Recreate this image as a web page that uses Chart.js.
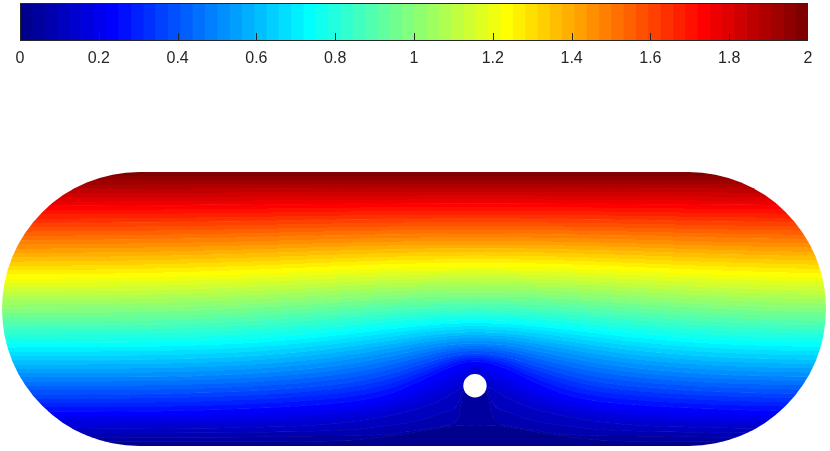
<!DOCTYPE html>
<html>
<head>
<meta charset="utf-8">
<script src="https://cdn.jsdelivr.net/npm/chart.js@4/dist/chart.umd.min.js"></script>
<style>
  html, body { margin: 0; padding: 0; background: #ffffff; }
  #wrap { position: relative; width: 830px; height: 451px; overflow: hidden; }
  #field, #cbar { position: absolute; left: 0; top: 0; }
</style>
</head>
<body>
<div id="wrap">
  <canvas id="field" width="830" height="451"></canvas>
  <canvas id="cbar" width="830" height="80"></canvas>
</div>
<script>
// ---------------- data ----------------
// colour bar
const colorbarRange = [0, 2];
const colorbarTicks = [0, 0.2, 0.4, 0.6, 0.8, 1, 1.2, 1.4, 1.6, 1.8, 2];
const colorLevelCount = 64;

// domain: channel with rounded ends, walls at y = 0 (value 0) and y = 2 (value 2)
const wallX = [0, 6];
const wallY = [0, 2];
const wallValue = [0, 2];

// obstacle (hole)
const holeX = [3.444];
const holeY = [0.44];
const holeR = [0.085];

// sample positions along the channel where contour heights were read
const xSamples = [0, 0.6, 1.2, 1.8, 2.3, 2.6, 2.85, 3.05, 3.2, 3.32, 3.36, 3.45, 3.53, 3.58, 3.71, 3.85, 4.06, 4.3, 4.6, 5.1, 5.7, 6];

// contour levels and their heights at xSamples
const contourLevels = [0.03125, 0.0625, 0.09375, 0.125, 0.25, 0.375, 0.5, 0.625, 0.75, 0.875, 1.0, 1.125, 1.25, 1.375, 1.5, 1.625, 1.75, 1.875];

const c_0_03125 = [0.031,0.031,0.031,0.031,0.035,0.048,0.076,0.110,0.134,0.147,0.149,0.153,0.149,0.147,0.134,0.110,0.076,0.048,0.035,0.031,0.031,0.031];
const c_0_0625  = [0.0625,0.0625,0.064,0.066,0.073,0.075,0.090,0.118,0.145,0.200,0.394,0.46,0.394,0.200,0.145,0.118,0.090,0.075,0.073,0.066,0.064,0.063];
const c_0_09375 = [0.094,0.094,0.095,0.099,0.109,0.124,0.153,0.190,0.241,0.307,0.423,0.50,0.423,0.307,0.241,0.190,0.153,0.124,0.109,0.099,0.095,0.094];
const c_0_125   = [0.125,0.125,0.128,0.135,0.153,0.182,0.226,0.277,0.336,0.409,0.438,0.535,0.438,0.409,0.336,0.277,0.226,0.182,0.153,0.135,0.128,0.126];
const c_0_25    = [0.25,0.251,0.256,0.273,0.301,0.332,0.391,0.478,0.548,0.596,0.606,0.615,0.606,0.596,0.548,0.478,0.391,0.332,0.301,0.273,0.256,0.252];
const c_0_375   = [0.375,0.376,0.382,0.401,0.436,0.475,0.533,0.595,0.638,0.664,0.669,0.674,0.669,0.664,0.638,0.595,0.533,0.475,0.436,0.401,0.382,0.378];
const c_0_5     = [0.5,0.501,0.507,0.528,0.569,0.612,0.659,0.701,0.728,0.742,0.745,0.748,0.745,0.742,0.728,0.701,0.659,0.612,0.569,0.528,0.507,0.503];
const c_0_625   = [0.625,0.626,0.633,0.655,0.698,0.737,0.773,0.802,0.818,0.826,0.828,0.829,0.828,0.826,0.818,0.802,0.773,0.737,0.698,0.655,0.633,0.629];
const c_0_75    = [0.75,0.752,0.759,0.783,0.823,0.854,0.881,0.900,0.911,0.916,0.917,0.918,0.917,0.916,0.911,0.900,0.881,0.854,0.823,0.783,0.759,0.754];
const c_0_875   = [0.875,0.878,0.887,0.912,0.949,0.973,0.991,1.003,1.009,1.013,1.013,1.014,1.013,1.013,1.009,1.003,0.991,0.973,0.949,0.912,0.887,0.881];
const c_1_0     = [1.001,1.004,1.013,1.036,1.066,1.085,1.100,1.109,1.114,1.116,1.116,1.117,1.116,1.116,1.114,1.109,1.100,1.085,1.066,1.036,1.013,1.007];
const c_1_125   = [1.126,1.129,1.140,1.161,1.186,1.202,1.214,1.221,1.225,1.226,1.227,1.227,1.227,1.226,1.225,1.221,1.214,1.202,1.186,1.161,1.140,1.134];
const c_1_25    = [1.252,1.256,1.267,1.286,1.307,1.319,1.328,1.333,1.335,1.337,1.337,1.338,1.337,1.337,1.335,1.333,1.328,1.319,1.307,1.286,1.267,1.260];
const c_1_375   = [1.377,1.381,1.390,1.406,1.422,1.431,1.437,1.441,1.443,1.444,1.444,1.444,1.444,1.444,1.443,1.441,1.437,1.431,1.422,1.406,1.390,1.385];
const c_1_5     = [1.502,1.506,1.513,1.524,1.536,1.542,1.546,1.549,1.550,1.551,1.551,1.551,1.551,1.551,1.550,1.549,1.546,1.542,1.536,1.524,1.513,1.509];
const c_1_625   = [1.627,1.630,1.635,1.643,1.651,1.656,1.659,1.660,1.661,1.661,1.661,1.661,1.661,1.661,1.661,1.660,1.659,1.656,1.651,1.643,1.635,1.632];
const c_1_75    = [1.751,1.753,1.757,1.762,1.766,1.769,1.770,1.771,1.772,1.772,1.772,1.772,1.772,1.772,1.772,1.771,1.770,1.769,1.766,1.762,1.757,1.755];
const c_1_875   = [1.876,1.877,1.879,1.881,1.883,1.884,1.885,1.886,1.886,1.886,1.886,1.886,1.886,1.886,1.886,1.886,1.885,1.884,1.883,1.881,1.879,1.878];

const contourY = [c_0_03125, c_0_0625, c_0_09375, c_0_125, c_0_25, c_0_375, c_0_5, c_0_625, c_0_75,
                  c_0_875, c_1_0, c_1_125, c_1_25, c_1_375, c_1_5, c_1_625, c_1_75, c_1_875];

// ---------------- style helpers ----------------
const FONT = "'Liberation Sans', Arial, Helvetica, sans-serif";
const INK = '#262626';

// MATLAB jet(64) colormap
function jet(i, n) {
  const q = n / 4;
  const I = i + 1;
  let r, g, b;
  r = I <= 1.5 * q ? 0 : I <= 2.5 * q ? (I - 1.5 * q) / q : I <= 3.5 * q - 1 ? 1 : (4.5 * q - I) / q;
  g = I <= 0.5 * q ? 0 : I <= 1.5 * q ? (I - 0.5 * q) / q : I <= 2.5 * q ? 1 : I <= 3.5 * q ? (3.5 * q - I) / q : 0;
  b = I <= 0.5 * q ? (I + 0.5 * q) / q : I <= 1.5 * q ? 1 : I <= 2.5 * q ? (2.5 * q - I) / q : 0;
  return [r, g, b].map(c => Math.round(Math.max(0, Math.min(1, c)) * 255));
}
const palette = [];
for (let i = 0; i < colorLevelCount; i++) palette.push(jet(i, colorLevelCount));
const paletteCss = palette.map(c => `rgb(${c[0]},${c[1]},${c[2]})`);

// monotone cubic (Fritsch-Carlson) tangents, used to draw smooth contours
function monoTangents(xs, ys) {
  const n = xs.length, d = [], m = new Array(n);
  for (let i = 0; i < n - 1; i++) d.push((ys[i + 1] - ys[i]) / (xs[i + 1] - xs[i]));
  m[0] = d[0]; m[n - 1] = d[n - 2];
  for (let i = 1; i < n - 1; i++) m[i] = d[i - 1] * d[i] <= 0 ? 0 : (d[i - 1] + d[i]) / 2;
  for (let i = 0; i < n - 1; i++) {
    if (d[i] === 0) { m[i] = 0; m[i + 1] = 0; continue; }
    const a = m[i] / d[i], b = m[i + 1] / d[i], s = a * a + b * b;
    if (s > 9) { const t = 3 / Math.sqrt(s); m[i] = t * a * d[i]; m[i + 1] = t * b * d[i]; }
  }
  return m;
}
const contourTangents = contourY.map(ys => monoTangents(xSamples, ys));
function evalContour(k, j, x) {
  const ys = contourY[k], m = contourTangents[k];
  const h = xSamples[j + 1] - xSamples[j];
  let t = (x - xSamples[j]) / h;
  t = Math.max(0, Math.min(1, t));
  const t2 = t * t, t3 = t2 * t;
  return (2 * t3 - 3 * t2 + 1) * ys[j] + (t3 - 2 * t2 + t) * h * m[j] +
         (-2 * t3 + 3 * t2) * ys[j + 1] + (t3 - t2) * h * m[j + 1];
}

// ---------------- field colouring from the contour data ----------------
function buildField(chart) {
  const area = chart.chartArea;
  if (!area) return null;
  const sx = chart.scales.x, sy = chart.scales.y;
  const W = chart.width, H = chart.height;
  const off = document.createElement('canvas');
  off.width = W; off.height = H;
  const octx = off.getContext('2d');
  const img = octx.createImageData(W, H);
  const lv = [wallValue[0], ...contourLevels, wallValue[1]];
  const span = colorbarRange[1] - colorbarRange[0];
  const x0 = Math.max(0, Math.floor(area.left)), x1 = Math.min(W, Math.ceil(area.right));
  const y0 = Math.max(0, Math.floor(area.top)), y1 = Math.min(H, Math.ceil(area.bottom));
  for (let px = x0; px < x1; px++) {
    const x = sx.getValueForPixel(px + 0.5);
    let j = 0;
    while (j < xSamples.length - 2 && x > xSamples[j + 1]) j++;
    const cy = [wallY[0]];
    for (let k = 0; k < contourY.length; k++) {
      const v = evalContour(k, j, x);
      cy.push(Math.max(v, cy[cy.length - 1]));
    }
    cy.push(wallY[1]);
    for (let py = y0; py < y1; py++) {
      const y = Math.max(wallY[0], Math.min(wallY[1], sy.getValueForPixel(py + 0.5)));
      let k = 0;
      while (k < cy.length - 2 && y > cy[k + 1]) k++;
      const den = cy[k + 1] - cy[k];
      let f = den > 0 ? (y - cy[k]) / den : 0.5;
      f = Math.max(0, Math.min(1, f));
      const v = lv[k] + (lv[k + 1] - lv[k]) * f;
      let idx = Math.floor((v - colorbarRange[0]) / span * colorLevelCount);
      idx = Math.max(0, Math.min(colorLevelCount - 1, idx));
      const c = palette[idx];
      const o = (py * W + px) * 4;
      img.data[o] = c[0]; img.data[o + 1] = c[1]; img.data[o + 2] = c[2]; img.data[o + 3] = 255;
    }
  }
  octx.putImageData(img, 0, 0);
  return chart.ctx.createPattern(off, 'no-repeat');
}
function fieldColor(c) {
  const chart = c.chart;
  if (!chart.$field && chart.chartArea) chart.$field = buildField(chart);
  return chart.$field || 'rgba(0,0,0,0)';
}

function stadiumPath(chart, ctx) {
  const sx = chart.scales.x, sy = chart.scales.y;
  const r = (wallY[1] - wallY[0]) / 2;
  const cyv = (wallY[0] + wallY[1]) / 2;
  const cx1 = sx.getPixelForValue(wallX[0] + r), cx2 = sx.getPixelForValue(wallX[1] - r);
  const cy = sy.getPixelForValue(cyv);
  const rx = Math.abs(sx.getPixelForValue(wallX[0] + r) - sx.getPixelForValue(wallX[0]));
  const ry = Math.abs(sy.getPixelForValue(wallY[0]) - sy.getPixelForValue(cyv));
  ctx.beginPath();
  ctx.moveTo(cx1, sy.getPixelForValue(wallY[1]));
  ctx.lineTo(cx2, sy.getPixelForValue(wallY[1]));
  ctx.ellipse(cx2, cy, rx, ry, 0, -Math.PI / 2, Math.PI / 2);
  ctx.lineTo(cx1, sy.getPixelForValue(wallY[0]));
  ctx.ellipse(cx1, cy, rx, ry, 0, Math.PI / 2, 3 * Math.PI / 2);
  ctx.closePath();
}

const stadiumClip = {
  id: 'stadiumClip',
  afterLayout(chart) { chart.$field = buildField(chart); },
  beforeDatasetsDraw(chart) {
    const ctx = chart.ctx;
    ctx.save();
    stadiumPath(chart, ctx);
    ctx.clip();
  },
  afterDatasetsDraw(chart) { chart.ctx.restore(); }
};

const bandStyle = {
  borderWidth: 1,
  borderColor: fieldColor,
  backgroundColor: fieldColor,
  pointRadius: 0,
  cubicInterpolationMode: 'monotone'
};

const fieldDatasets = contourY.map((ys, k) => Object.assign({
  label: 'level ' + contourLevels[k],
  data: xSamples.map((x, i) => ({ x: x, y: ys[i] })),
  fill: k === 0 ? { value: wallY[0] } : '-1'
}, bandStyle));
fieldDatasets.push(Object.assign({
  label: 'level ' + wallValue[1],
  data: xSamples.map((x, i) => ({ x: x, y: contourY[contourY.length - 1][i] })),
  fill: { value: wallY[1] }
}, bandStyle));
fieldDatasets.push({
  label: 'hole',
  data: holeX.map((x, i) => ({ x: x, y: holeY[i] })),
  showLine: false,
  fill: false,
  order: -1,
  pointRadius: c => Math.abs(c.chart.scales.x.getPixelForValue(holeR[c.dataIndex]) - c.chart.scales.x.getPixelForValue(0)),
  pointBackgroundColor: '#ffffff',
  pointBorderWidth: 0,
  pointHoverRadius: 0
});

new Chart(document.getElementById('field'), {
  type: 'line',
  data: { datasets: fieldDatasets },
  options: {
    responsive: false,
    animation: false,
    devicePixelRatio: 1,
    events: [],
    layout: { padding: { left: 2, right: 4, top: 172, bottom: 5 } },
    scales: {
      x: { type: 'linear', min: wallX[0], max: wallX[1], display: false },
      y: { type: 'linear', min: wallY[0], max: wallY[1], display: false }
    },
    plugins: { legend: { display: false }, tooltip: { enabled: false } }
  },
  plugins: [stadiumClip]
});

// ---------------- colour bar ----------------
const cbFrame = {
  id: 'cbFrame',
  afterDatasetsDraw(chart) {
    const ctx = chart.ctx, a = chart.chartArea, sx = chart.scales.x;
    ctx.save();
    ctx.strokeStyle = INK;
    ctx.lineWidth = 1;
    ctx.beginPath();
    for (const v of colorbarTicks) {
      if (v === colorbarRange[0] || v === colorbarRange[1]) continue;
      const x = Math.round(sx.getPixelForValue(v)) + 0.5;
      ctx.moveTo(x, a.bottom);
      ctx.lineTo(x, a.bottom - 8);
    }
    ctx.stroke();
    ctx.strokeRect(Math.round(a.left) + 0.5, Math.round(a.top) + 0.5,
                   Math.round(a.right - a.left) - 1, Math.round(a.bottom - a.top) - 1);
    ctx.restore();
  }
};

const cbStep = (colorbarRange[1] - colorbarRange[0]) / colorLevelCount;
new Chart(document.getElementById('cbar'), {
  type: 'bar',
  data: {
    labels: [''],
    datasets: paletteCss.map((col, i) => ({
      label: 'level ' + (i + 1),
      data: [cbStep],
      backgroundColor: col,
      borderWidth: 0,
      barPercentage: 1,
      categoryPercentage: 1
    }))
  },
  options: {
    indexAxis: 'y',
    responsive: false,
    animation: false,
    devicePixelRatio: 1,
    events: [],
    layout: { padding: { left: 20, right: 22, top: 3, bottom: 3.8 } },
    scales: {
      x: {
        type: 'linear', stacked: true,
        min: colorbarRange[0], max: colorbarRange[1],
        afterBuildTicks: s => { s.ticks = colorbarTicks.map(v => ({ value: v })); },
        grid: { display: false, drawTicks: false },
        border: { display: false },
        ticks: {
          autoSkip: false, maxRotation: 0, padding: 8,
          color: INK, font: { family: FONT, size: 16 },
          callback: v => String(v)
        }
      },
      y: { stacked: true, display: false }
    },
    plugins: { legend: { display: false }, tooltip: { enabled: false } }
  },
  plugins: [cbFrame]
});
</script>
</body>
</html>
